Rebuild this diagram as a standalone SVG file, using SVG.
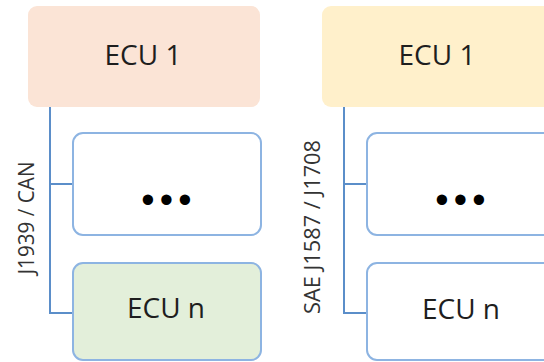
<svg xmlns="http://www.w3.org/2000/svg" width="544" height="362" viewBox="0 0 544 362">
  <style>
    .head { stroke: none; }
    .child { fill: #ffffff; stroke: #8db4e2; stroke-width: 2; }
    .lbl { font-family: "Open Sans", "Liberation Sans", sans-serif; font-size: 28px; fill: #1e1e1e; text-anchor: middle; }
    .bus { font-family: "Open Sans", "Liberation Sans", sans-serif; font-size: 22px; fill: #333333; text-anchor: middle; }
    .dots { font-family: "Liberation Sans", sans-serif; font-size: 38px; fill: #000000; text-anchor: middle; letter-spacing: 5.2px; }
    .wire { fill: none; stroke: #5b8ec9; stroke-width: 2; }
  </style>
  <rect width="544" height="362" fill="#ffffff"/>

  <!-- bus wiring -->
  <g id="connectors">
    <polyline class="wire" points="50,107 50,313 73,313"/>
    <line class="wire" x1="50" y1="184" x2="73" y2="184"/>
    <polyline class="wire" points="344,107 344,313 367,313"/>
    <line class="wire" x1="344" y1="184" x2="367" y2="184"/>
  </g>

  <!-- J1939 / CAN network -->
  <g id="can-ecu1">
    <rect class="head" x="28" y="6" width="232" height="101" rx="9" style="fill:#fbe4d6"/>
    <text class="lbl" x="143" y="65">ECU 1</text>
  </g>
  <g id="can-more">
    <rect class="child" x="73" y="133" width="188" height="102" rx="10"/>
    <text class="dots" x="169" y="213">•••</text>
  </g>
  <g id="can-ecun">
    <rect class="child" x="73" y="263" width="188" height="97" rx="10" style="fill:#e3efda"/>
    <text class="lbl" x="166" y="318">ECU n</text>
  </g>
  <g id="can-label">
    <text class="bus" transform="translate(34,218) rotate(-90)" textLength="113" lengthAdjust="spacingAndGlyphs">J1939 / CAN</text>
  </g>

  <!-- SAE J1587 / J1708 network -->
  <g id="j1708-ecu1">
    <rect class="head" x="322" y="6" width="232" height="101" rx="9" style="fill:#fff0cb"/>
    <text class="lbl" x="437" y="65">ECU 1</text>
  </g>
  <g id="j1708-more">
    <rect class="child" x="367" y="133" width="188" height="102" rx="10"/>
    <text class="dots" x="463" y="213">•••</text>
  </g>
  <g id="j1708-ecun">
    <rect class="child" x="367" y="263" width="188" height="97" rx="10"/>
    <text class="lbl" x="461" y="319">ECU n</text>
  </g>
  <g id="j1708-label">
    <text class="bus" transform="translate(320,227) rotate(-90)" textLength="174" lengthAdjust="spacingAndGlyphs">SAE J1587 / J1708</text>
  </g>
</svg>
